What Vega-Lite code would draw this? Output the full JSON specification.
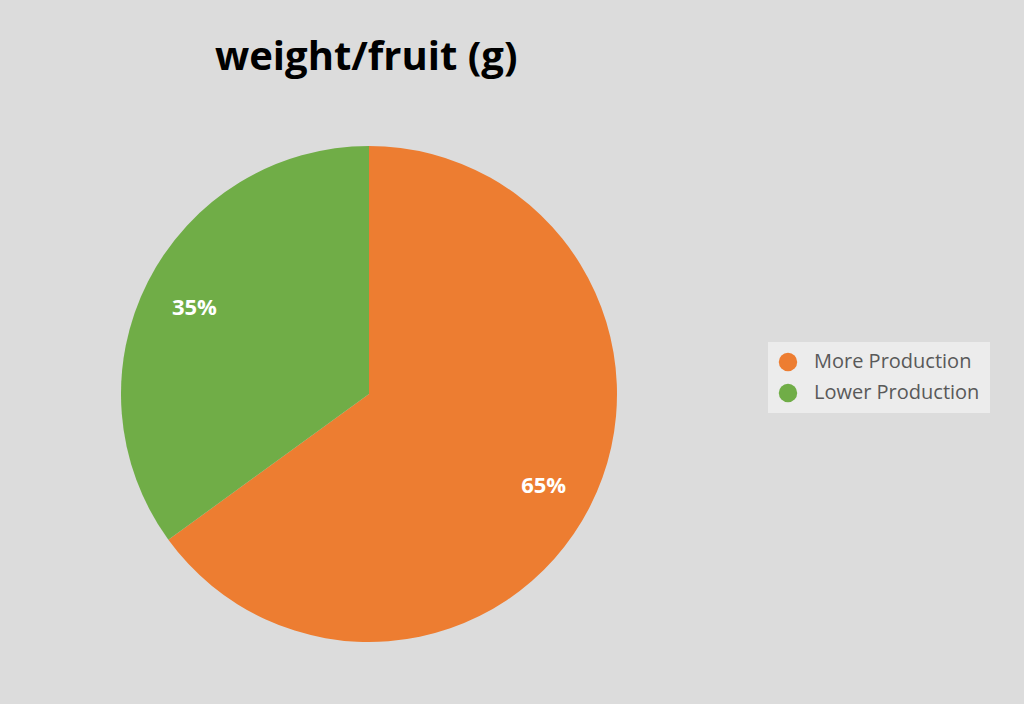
{
  "$schema": "https://vega.github.io/schema/vega-lite/v6.json",
  "autosize": "none",
  "width": 496,
  "height": 496,
  "padding": {"left": 121, "top": 146, "right": 407, "bottom": 62},
  "background": "#dcdcdc",
  "config": {"view": {"stroke": null}},
  "title": {
    "text": "weight/fruit (g)",
    "anchor": "start",
    "frame": "group",
    "dx": 94,
    "offset": 68,
    "font": "Open Sans",
    "fontSize": 40,
    "fontWeight": "bold",
    "color": "#000000"
  },
  "data": {
    "values": [
      {"category": "More Production", "value": 65, "order": 1, "label": "65%"},
      {"category": "Lower Production", "value": 35, "order": 2, "label": "35%"}
    ]
  },
  "encoding": {
    "theta": {"field": "value", "type": "quantitative", "stack": true},
    "order": {"field": "order", "type": "quantitative"}
  },
  "layer": [
    {
      "mark": {"type": "arc", "outerRadius": 248},
      "encoding": {
        "color": {
          "field": "category",
          "type": "nominal",
          "scale": {"domain": ["More Production", "Lower Production"], "range": ["#ED7D31", "#70AD47"]},
          "legend": {
            "title": null,
            "orient": "none",
            "legendX": 647,
            "legendY": 196,
            "symbolType": "circle",
            "symbolSize": 340,
            "labelFont": "Open Sans",
            "labelFontSize": 20,
            "labelColor": "#595959",
            "labelLimit": 400,
            "rowPadding": 11,
            "fillColor": "#ececec",
            "padding": 10,
            "labelOffset": 16
          }
        }
      }
    },
    {
      "mark": {"type": "text", "radius": 196, "dy": 3, "font": "Open Sans", "fontSize": 22, "fontWeight": "bold", "color": "#ffffff"},
      "encoding": {"text": {"field": "label"}}
    }
  ]
}
